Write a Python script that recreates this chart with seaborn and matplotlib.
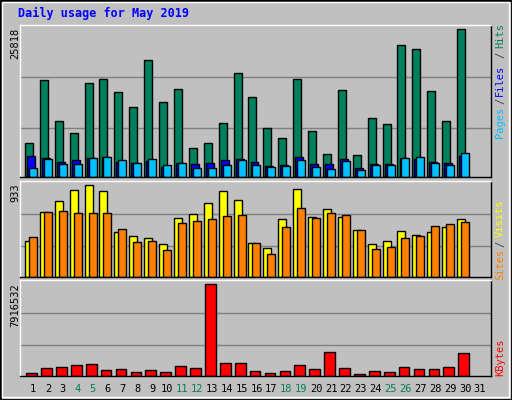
import numpy as np
import matplotlib
matplotlib.use("Agg")
import matplotlib.pyplot as plt
import seaborn as sns
from matplotlib.patches import Rectangle

days = list(range(1, 32))
weekends = [4, 5, 11, 12, 18, 19, 25, 26]

hits = [6016, 16880, 9870, 7770, 16350, 17060, 14780, 12320, 20390, 13200,
        15300, 5140, 6016, 9520, 18110, 13900, 8640, 6890, 17060, 8120,
        4090, 15130, 3910, 10400, 9350, 23010, 22310, 14950, 9870, 25818]
files = [3738, 3388, 2687, 3037, 3388, 3563, 2687, 2512, 2862, 1811,
         2512, 2336, 2512, 3037, 3213, 2687, 1986, 2161, 3563, 2336,
         2336, 3213, 1635, 2336, 2336, 3388, 3213, 2687, 2512, 3738]
pages = [1635, 3213, 2336, 2336, 3388, 3563, 3037, 2512, 3213, 2161,
         2512, 1635, 1635, 2161, 3037, 2161, 1811, 1986, 3037, 1811,
         1460, 2862, 1285, 2161, 2161, 3388, 3563, 2512, 2161, 4264]
visits = [367, 660, 771, 882, 933, 872, 458, 418, 397, 337,
          600, 640, 751, 872, 781, 347, 296, 589, 892, 610,
          690, 610, 478, 337, 367, 468, 428, 458, 509, 589]
sites = [408, 660, 670, 650, 650, 650, 488, 357, 367, 276,
         549, 569, 589, 620, 630, 347, 236, 509, 700, 600,
         650, 630, 478, 286, 306, 397, 418, 519, 539, 559]
kbytes = [288000, 720000, 806000, 979000, 1065000, 547000, 633000, 374000, 547000, 374000,
          892000, 720000, 7916532, 1151000, 1151000, 461000, 288000, 461000, 979000, 633000,
          2101000, 720000, 202000, 461000, 374000, 806000, 633000, 633000, 806000, 2015000]

BG = "#c0c0c0"
MONO = "DejaVu Sans Mono"
sns.set_theme(style="white")
plt.rcParams["font.family"] = [MONO]

W, H = 512, 400
fig = plt.figure(figsize=(W / 100, H / 100), dpi=100, facecolor=BG)


def px_axes(x0, y0, x1, y1):
    return fig.add_axes([x0 / W, 1 - y1 / H, (x1 - x0) / W, (y1 - y0) / H])


def style(ax, top, ymax):
    ax.set_facecolor(BG)
    ax.set_xlim(0.13, 31.74)
    ax.set_ylim(0, top)
    for f in (0.335, 0.68):
        ax.axhline(ymax * f, color="#808080", lw=1, zorder=0)
    ax.set_xticks([])
    ax.set_yticks([])
    for s in ax.spines.values():
        s.set_color("black")
        s.set_linewidth(1)
    ax.spines["top"].set_color("white")
    ax.spines["left"].set_color("white")


x = np.array(days[:30], dtype=float)
kw = dict(align="edge", edgecolor="black", linewidth=1)

# top panel: hits / files / pages
ax1 = px_axes(20, 25, 491, 177)
style(ax1, 26576, 25818)
ax1.bar(x - 0.54, hits, width=0.54, color="#00805c", **kw)
ax1.bar(x - 0.40, files, width=0.53, color="#0000ff", **kw)
ax1.bar(x - 0.27, pages, width=0.54, color="#00c0ff", **kw)

# middle panel: visits / sites
ax2 = px_axes(20, 181, 491, 277)
style(ax2, 970, 933)
ax2.bar(x - 0.54, visits, width=0.54, color="#ffff00", **kw)
ax2.bar(x - 0.27, sites, width=0.54, color="#ff8000", **kw)

# bottom panel: kbytes
ax3 = px_axes(20, 280, 491, 376)
style(ax3, 8233000, 7916532)
sns.barplot(x=x - 0.09, y=kbytes, native_scale=True, width=0.72, color="#ff0000",
            saturation=1, edgecolor="black", linewidth=1, ax=ax3)
ax3.set_xlim(0.13, 31.74)
ax3.set_xticks([])
ax3.set_yticks([])


def ftext(px, py, s, **k):
    fig.text(px / W, 1 - py / H, s, fontfamily=MONO, **k)


# title
ftext(18, 13, "Daily usage for May 2019", color="#0000ff", fontsize=8.5,
      fontweight="bold", va="center", ha="left")

# max labels
ftext(15, 28, "25818", rotation=90, fontsize=7.5, va="top", ha="center", color="black")
ftext(15, 183, "933", rotation=90, fontsize=7.5, va="top", ha="center", color="black")
ftext(15, 283, "7916532", rotation=90, fontsize=7.5, va="top", ha="center", color="black")

# right-hand legends
rk = dict(rotation=90, fontsize=7.5, va="center", ha="center")
ftext(500, 122, "Pages", color="#00c0ff", **rk)
ftext(500, 101, "/", color="#404040", **rk)
ftext(500, 80, "Files", color="#0000ff", **rk)
ftext(500, 55, "/", color="#404040", **rk)
ftext(500, 36, "Hits", color="#00805c", **rk)
ftext(500, 264, "Sites", color="#ff8000", **rk)
ftext(500, 244, "/", color="#404040", **rk)
ftext(500, 218, "Visits", color="#ffff00", **rk)
ftext(500, 357, "KBytes", color="#ff0000", **rk)

# day labels
for d in days:
    ftext(33 + (d - 1) * 14.9, 389, str(d), fontsize=7.5, ha="center", va="center",
          color="#00805c" if d in weekends else "black")

# frame bevel
fig.patches.append(Rectangle((0, 0), 1, 1, transform=fig.transFigure, fill=False,
                             edgecolor="black", linewidth=2))
fig.patches.append(Rectangle((2 / W, 3 / H), 1 - 5 / W, 1 - 5 / H, transform=fig.transFigure,
                             fill=False, edgecolor="white", linewidth=1))

fig.savefig("out.png", dpi=100, facecolor=BG)
